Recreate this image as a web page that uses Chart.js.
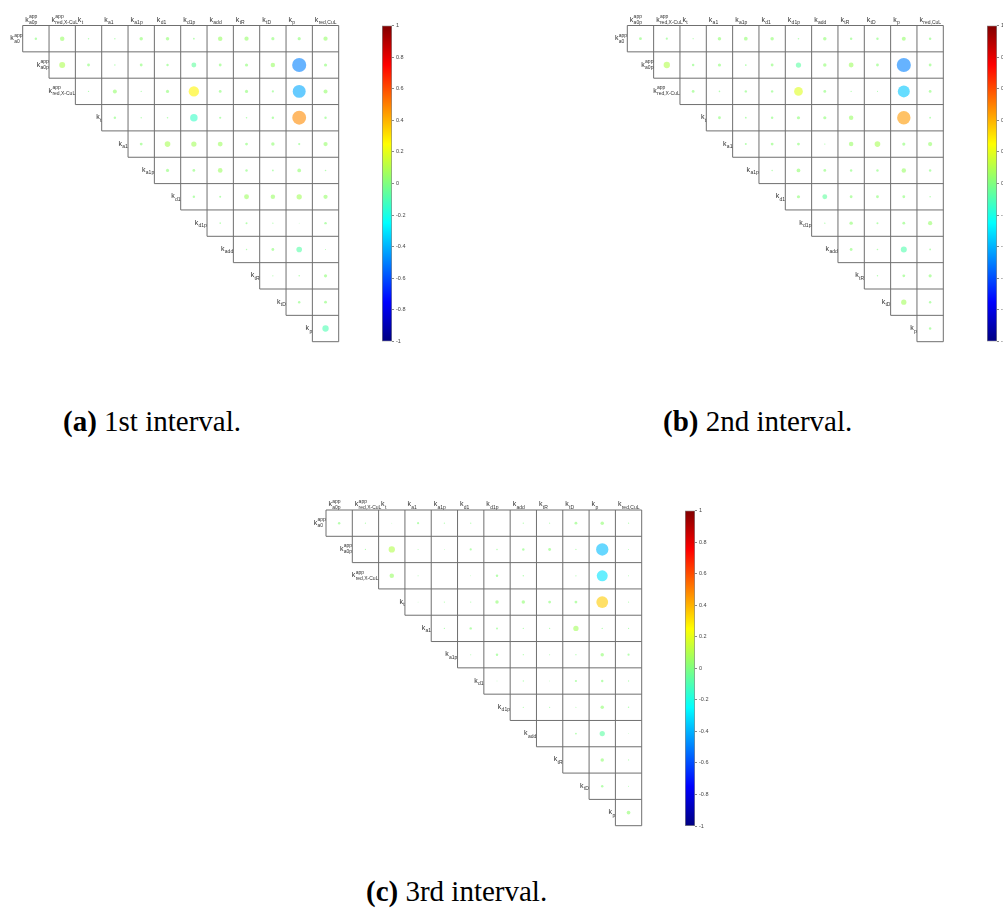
<!DOCTYPE html>
<html>
<head>
<meta charset="utf-8">
<script src="https://cdn.jsdelivr.net/npm/chart.js@4/dist/chart.umd.min.js"></script>
<style>
  html, body { margin: 0; padding: 0; background: #fff; width: 1003px; height: 918px; overflow: hidden; }
  canvas { position: absolute; }
  .cap { position: absolute; font-family: "Liberation Serif", "Times New Roman", serif; font-size: 29px; line-height: 29px; color: #000; white-space: nowrap; }
</style>
</head>
<body>
<canvas id="matA" width="350" height="350" style="left:0px;top:0px"></canvas>
<canvas id="barA" width="50" height="340" style="left:377px;top:15px"></canvas>
<canvas id="matB" width="360" height="350" style="left:600px;top:0px"></canvas>
<canvas id="barB" width="50" height="340" style="left:982px;top:15px"></canvas>
<canvas id="matC" width="350" height="360" style="left:300px;top:480px"></canvas>
<canvas id="barC" width="50" height="340" style="left:680px;top:500px"></canvas>

<div class="cap" style="left:63px;top:407px"><b>(a)</b> 1st interval.</div>
<div class="cap" style="left:663px;top:407px"><b>(b)</b> 2nd interval.</div>
<div class="cap" style="left:366px;top:877px"><b>(c)</b> 3rd interval.</div>

<script>
// parameter names (subscript / superscript of k)
const rowNames = ['a0', 'a0p', 'red,X-CuL', 't', 'a1', 'a1p', 'd1', 'd1p', 'add', 'tR', 'tD', 'p'];
const rowSups  = ['app', 'app', 'app', '', '', '', '', '', '', '', '', ''];
const colNames = ['a0p', 'red,X-CuL', 't', 'a1', 'a1p', 'd1', 'd1p', 'add', 'tR', 'tD', 'p', 'red,CuL'];
const colSups  = ['app', 'app', '', '', '', '', '', '', '', '', '', ''];

// correlation values, row i starts at column i
const corr1 = [
  [0.015, 0.05, 0.005, 0.005, 0.03, 0.03, 0.008, 0.05, 0.045, 0.025, 0.025, 0.045],
  [0.09, 0.02, 0.005, 0.02, 0.015, -0.06, 0.02, 0.025, 0.05, -0.5, 0.025],
  [0.004, 0.04, 0.004, 0.025, 0.27, 0.02, 0.025, 0.012, -0.42, 0.04],
  [0.015, 0.005, 0.006, -0.14, 0.012, 0.006, 0.015, 0.48, 0.015],
  [0.02, 0.08, 0.07, 0.06, 0.02, 0.03, 0.012, 0.045],
  [0.025, 0.02, 0.055, 0.015, 0.008, 0.035, 0.006],
  [0.015, 0.01, 0.06, 0.05, 0.07, 0.045],
  [0.006, 0.01, 0.004, 0.002, 0.015],
  [0.005, 0.02, -0.08, 0.003],
  [0.004, 0.006, 0.025],
  [0.015, 0.02],
  [-0.1]
];
const corr2 = [
  [0.02, 0.012, 0.004, 0.03, 0.035, 0.03, 0.006, 0.03, 0.015, 0.015, 0.04, 0.015],
  [0.1, 0.015, 0.025, 0.008, 0.02, -0.07, 0.03, 0.06, 0.02, -0.5, 0.02],
  [0.02, 0.006, 0.015, 0.015, 0.19, 0.02, 0.004, 0.003, -0.36, 0.02],
  [0.02, 0.008, 0.015, 0.025, 0.025, 0.05, 0, 0.45, 0.008],
  [0.01, 0.02, 0.02, 0.004, 0.05, 0.08, 0.025, 0.045],
  [0.006, 0.035, 0.02, 0.015, 0.015, 0.05, 0.015],
  [0.025, -0.06, 0.02, 0.02, 0.02, 0.006],
  [0.005, 0.03, 0.01, 0.02, 0.045],
  [0.02, 0.006, -0.09, 0.008],
  [0.005, 0.02, 0.025],
  [0.07, 0.015],
  [0.015]
];
const corr3 = [
  [0.015, 0.004, 0.002, 0.012, 0.004, 0.004, 0, 0.004, 0.003, 0.02, 0.03, 0.004],
  [0.004, 0.1, 0.003, 0.002, 0.012, 0.006, 0.015, 0.02, 0.004, -0.38, 0.003],
  [0.05, 0.003, 0, 0.002, 0.015, 0.005, 0, 0.004, -0.3, 0.003],
  [0.002, 0.004, 0.004, 0.03, 0.03, 0.02, 0.02, 0.35, 0.004],
  [0.004, 0.015, 0.01, 0.004, 0.004, 0.07, 0.005, 0.004],
  [0.003, 0.015, 0.004, 0.003, 0.004, 0.03, 0.012],
  [0.002, 0.004, 0.002, 0.012, 0.015, 0.004],
  [0.004, 0.004, 0.003, 0.03, 0.005],
  [0, 0.008, -0.07, 0.002],
  [0, 0.03, 0.004],
  [0.015, 0.003],
  [0.035]
];

// colorbar
const cbarRange = [-1, 1];
const cbarTicks = [-1, -0.8, -0.6, -0.4, -0.2, 0, 0.2, 0.4, 0.6, 0.8, 1];

const FONT = '"Liberation Sans", Arial, sans-serif';

// matlab jet colormap
function jet(v, a) {
    const t = (v + 1) / 2;
    const f = s => Math.round(255 * Math.min(1, Math.max(0, 1.5 - Math.abs(4 * t - s))));
    return 'rgba(' + f(3) + ',' + f(2) + ',' + f(1) + ',' + a + ')';
}

// k with subscript / superscript
function drawK(ctx, x, yBase, sub, sup, alignRight) {
    ctx.font = '7px ' + FONT;
    const kw = ctx.measureText('k').width;
    ctx.font = '5px ' + FONT;
    const w2 = Math.max(ctx.measureText(sub).width, sup ? ctx.measureText(sup).width : 0);
    const x0 = alignRight ? x - kw - w2 : x;
    ctx.font = '7px ' + FONT;
    ctx.fillText('k', x0, yBase);
    ctx.font = '5px ' + FONT;
    ctx.fillText(sub, x0 + kw + 0.3, yBase + 2.5);
    if (sup) ctx.fillText(sup, x0 + kw + 0.3, yBase - 3.5);
}

// triangular grid and labels
const gridPlugin = {
    id: 'triGrid',
    afterDatasetsDraw(chart) {
        const ctx = chart.ctx;
        const x = chart.scales.x, y = chart.scales.y;
        const n = colNames.length;
        ctx.save();
        ctx.strokeStyle = '#6f6f6f';
        ctx.lineWidth = 1;
        ctx.beginPath();
        for (let k = 0; k <= n; k++) {
            const x0 = k === 0 ? 0 : k - 1;
            ctx.moveTo(x.getPixelForValue(x0), y.getPixelForValue(k));
            ctx.lineTo(x.getPixelForValue(n), y.getPixelForValue(k));
            const y1 = Math.min(k + 1, n);
            ctx.moveTo(x.getPixelForValue(k), y.getPixelForValue(0));
            ctx.lineTo(x.getPixelForValue(k), y.getPixelForValue(y1));
        }
        ctx.stroke();

        ctx.fillStyle = '#333';
        ctx.textBaseline = 'alphabetic';
        ctx.textAlign = 'left';
        const top = y.getPixelForValue(0);
        colNames.forEach((name, j) => {
            drawK(ctx, x.getPixelForValue(j) + 2.5, top - 4, name, colSups[j], false);
        });
        rowNames.forEach((name, i) => {
            const cy = y.getPixelForValue(i + 0.5);
            drawK(ctx, x.getPixelForValue(i) - 0.5, cy + 1.5, name, rowSups[i], true);
        });
        ctx.restore();
    }
};

function makeMatrix(id, corr, pad) {
    const points = [];
    corr.forEach((row, i) => row.forEach((v, j) => {
        if (v !== 0) points.push({x: i + j + 0.5, y: i + 0.5, r: 10 * Math.sqrt(Math.abs(v)), v: v});
    }));
    new Chart(document.getElementById(id), {
        type: 'bubble',
        data: {
            datasets: [{
                data: points,
                backgroundColor: c => jet(c.raw ? c.raw.v : 0, 0.6),
                borderWidth: 0
            }]
        },
        options: {
            responsive: false,
            animation: false,
            events: [],
            layout: {padding: pad},
            plugins: {legend: {display: false}, tooltip: {enabled: false}},
            scales: {
                x: {type: 'linear', min: 0, max: colNames.length, display: false},
                y: {type: 'linear', min: 0, max: rowNames.length, reverse: true, display: false}
            }
        },
        plugins: [gridPlugin]
    });
}

function makeColorbar(id, pad) {
    new Chart(document.getElementById(id), {
        type: 'bar',
        data: {
            labels: [''],
            datasets: [{
                data: [cbarRange],
                backgroundColor: c => {
                    const area = c.chart.chartArea;
                    if (!area) return '#0f0';
                    const g = c.chart.ctx.createLinearGradient(0, area.bottom, 0, area.top);
                    [0, 0.125, 0.375, 0.625, 0.875, 1].forEach(t => g.addColorStop(t, jet(t * 2 - 1, 1)));
                    return g;
                },
                borderColor: '#8a8a8a',
                borderWidth: 1,
                borderSkipped: false,
                barPercentage: 1,
                categoryPercentage: 1
            }]
        },
        options: {
            responsive: false,
            animation: false,
            events: [],
            layout: {padding: pad},
            plugins: {legend: {display: false}, tooltip: {enabled: false}},
            scales: {
                x: {display: false},
                y: {
                    position: 'right',
                    min: cbarRange[0],
                    max: cbarRange[1],
                    afterBuildTicks: s => { s.ticks = cbarTicks.map(v => ({value: v})); },
                    afterFit: s => { s.width = 35; },
                    ticks: {
                        callback: v => String(+v.toFixed(1)),
                        font: {size: 5.5, family: FONT},
                        color: '#444',
                        padding: 2
                    },
                    grid: {drawOnChartArea: false, tickLength: 2, color: '#888'},
                    border: {display: false}
                }
            }
        }
    });
}

makeMatrix('matA', corr1, {left: 22.7, top: 25.5, right: 11.3, bottom: 8.3});
makeMatrix('matB', corr2, {left: 27.3, top: 25.5, right: 16.7, bottom: 8.3});
makeMatrix('matC', corr3, {left: 26, top: 30, right: 8.3, bottom: 14.3});

makeColorbar('barA', {left: 5, top: 10.5, right: 0, bottom: 13.5});
makeColorbar('barB', {left: 5, top: 10.5, right: 0, bottom: 13.5});
makeColorbar('barC', {left: 5, top: 10.5, right: 0, bottom: 14});
</script>
</body>
</html>
